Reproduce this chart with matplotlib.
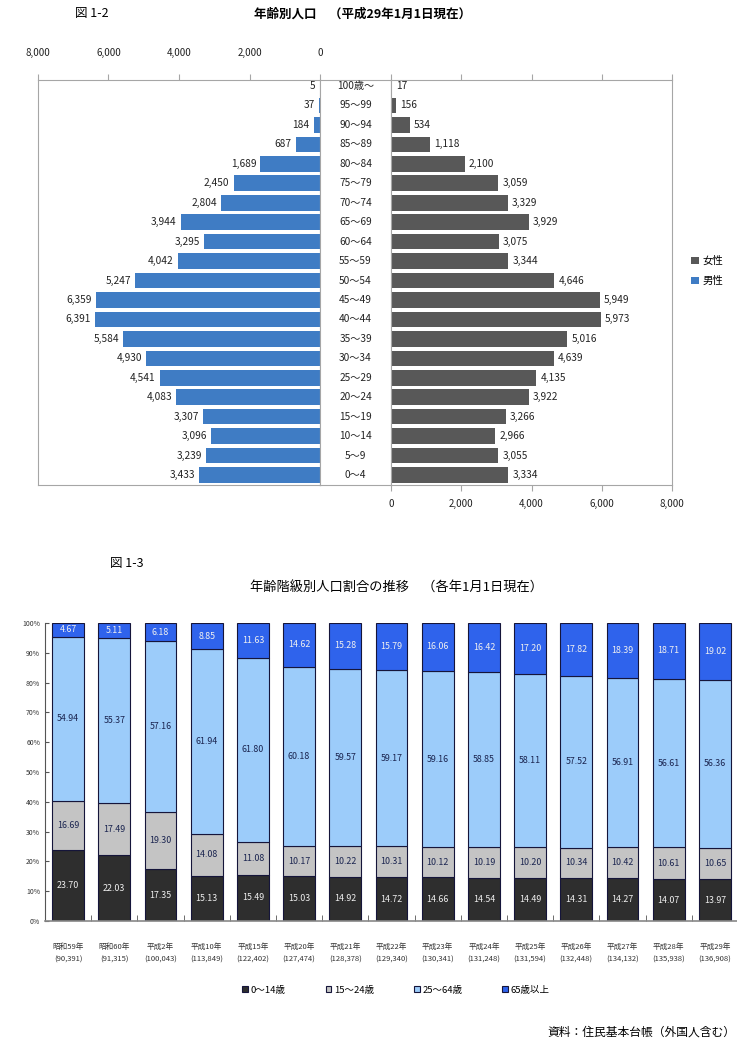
import matplotlib.pyplot as plt
import numpy as np

plt.rcParams['font.family'] = ['Noto Sans CJK JP', 'DejaVu Sans']

# ---- 図1-2 年齢別人口 ----
ages = ["0～4", "5～9", "10～14", "15～19", "20～24", "25～29", "30～34",
        "35～39", "40～44", "45～49", "50～54", "55～59", "60～64", "65～69",
        "70～74", "75～79", "80～84", "85～89", "90～94", "95～99", "100歳～"]
male = [3433, 3239, 3096, 3307, 4083, 4541, 4930, 5584, 6391, 6359, 5247,
        4042, 3295, 3944, 2804, 2450, 1689, 687, 184, 37, 5]
female = [3334, 3055, 2966, 3266, 3922, 4135, 4639, 5016, 5973, 5949, 4646,
          3344, 3075, 3929, 3329, 3059, 2100, 1118, 534, 156, 17]
pyr_ticks = [0, 2000, 4000, 6000, 8000]

# ---- 図1-3 年齢階級別人口割合の推移 ----
years = ["昭和59年", "昭和60年", "平成2年", "平成10年", "平成15年", "平成20年",
         "平成21年", "平成22年", "平成23年", "平成24年", "平成25年", "平成26年",
         "平成27年", "平成28年", "平成29年"]
totals = ["90,391", "91,315", "100,043", "113,849", "122,402", "127,474",
          "128,378", "129,340", "130,341", "131,248", "131,594", "132,448",
          "134,132", "135,938", "136,908"]
g0_14 = [23.70, 22.03, 17.35, 15.13, 15.49, 15.03, 14.92, 14.72, 14.66,
         14.54, 14.49, 14.31, 14.27, 14.07, 13.97]
g15_24 = [16.69, 17.49, 19.30, 14.08, 11.08, 10.17, 10.22, 10.31, 10.12,
          10.19, 10.20, 10.34, 10.42, 10.61, 10.65]
g25_64 = [54.94, 55.37, 57.16, 61.94, 61.80, 60.18, 59.57, 59.17, 59.16,
          58.85, 58.11, 57.52, 56.91, 56.61, 56.36]
g65 = [4.67, 5.11, 6.18, 8.85, 11.63, 14.62, 15.28, 15.79, 16.06, 16.42,
       17.20, 17.82, 18.39, 18.71, 19.02]
groups = ["0～14歳", "15～24歳", "25～64歳", "65歳以上"]

W, H = 737, 1051
fig = plt.figure(figsize=(W / 100, H / 100), dpi=100)


def rect(x0, y0, x1, y1):
    return [x0 / W, 1 - y1 / H, (x1 - x0) / W, (y1 - y0) / H]


frame = '#a6a6a6'
blue = '#3f7cc4'
dgray = '#585858'
ylo, yhi = -0.514, 20.31
pos = np.arange(len(ages))

axL = fig.add_axes(rect(38, 80, 320, 485))
axM = fig.add_axes(rect(320, 80, 391, 485))
axR = fig.add_axes(rect(391, 80, 672, 485))

axL.barh(pos, male, height=0.8, color=blue, label="男性")
axR.barh(pos, female, height=0.8, color=dgray, label="女性")
axL.set_xlim(8000, 0)
axR.set_xlim(0, 8000)
for ax in (axL, axM, axR):
    ax.set_ylim(ylo, yhi)
    ax.set_yticks([])
    for s in ax.spines.values():
        s.set_color(frame)
        s.set_linewidth(0.8)

axL.xaxis.tick_top()
axL.set_xticks(pyr_ticks)
axL.set_xticklabels([f"{v:,}" for v in pyr_ticks])
axL.tick_params(axis='x', labelsize=7, pad=12, length=4, color=frame,
                labelcolor='#222222')
axR.set_xticks(pyr_ticks)
axR.set_xticklabels([f"{v:,}" for v in pyr_ticks])
axR.tick_params(axis='x', labelsize=7, pad=6, length=0, labelcolor='#222222')
axR.tick_params(axis='x', top=True, labeltop=False, length=4, color=frame)
axM.set_xticks([])

for i, v in enumerate(male):
    axL.annotate(f"{v:,}", (v, i), xytext=(-3, 0), textcoords='offset points',
                 ha='right', va='center', fontsize=7.3, color='#222222')
for i, v in enumerate(female):
    axR.annotate(f"{v:,}", (v, i), xytext=(3, 0), textcoords='offset points',
                 ha='left', va='center', fontsize=7.3, color='#222222')
for i, a in enumerate(ages):
    axM.text(0.5, i, a, ha='center', va='center', fontsize=7.3,
             color='#222222', transform=axM.get_yaxis_transform())

hR, lR = axR.get_legend_handles_labels()
hL, lL = axL.get_legend_handles_labels()
fig.legend(hR + hL, lR + lL, loc='center left',
           bbox_to_anchor=(682 / W, 1 - 271 / H), frameon=False,
           fontsize=7.5, handlelength=0.7, handleheight=0.7,
           handletextpad=0.4, labelspacing=1.0)

fig.text(75 / W, 1 - 14 / H, "図 1-2", fontsize=9, ha='left', va='center')
fig.text(363 / W, 1 - 14 / H, "年齢別人口　（平成29年1月1日現在）",
         fontsize=9, ha='center', va='center', fontweight='bold')

# ---- stacked bars ----
ax2 = fig.add_axes(rect(45, 623, 738, 921))
x = np.arange(len(years))
cols = ['#2e2e2e', '#c4c4c4', '#9cccfa', '#2f63ec']
txtc = ['#eeeeee', '#1b2550', '#1b2550', '#f0f0f0']
bottom = np.zeros(len(years))
for vals, c, tc, lab in zip([g0_14, g15_24, g25_64, g65], cols, txtc, groups):
    vals = np.array(vals)
    ax2.bar(x, vals, bottom=bottom, width=0.69, color=c, edgecolor='#15153a',
            linewidth=0.8, label=lab)
    for xi, b, v in zip(x, bottom, vals):
        ax2.text(xi, b + v / 2, f"{v:.2f}", ha='center', va='center',
                 fontsize=6.4, color=tc)
    bottom += vals

ax2.set_xlim(-0.5, 14.5)
ax2.set_ylim(0, 100)
ax2.set_yticks(np.arange(0, 101, 10))
ax2.set_yticklabels([f"{v}%" for v in range(0, 101, 10)])
ax2.tick_params(axis='y', labelsize=5, direction='in', length=3,
                color='#555555', labelcolor='#333333')
ax2.set_xticks(x)
ax2.set_xticklabels([f"{y}\n({t})" for y, t in zip(years, totals)],
                    fontsize=5.5, linespacing=1.7, color='#333333')
ax2.tick_params(axis='x', length=0, pad=16)
ax2.set_xticks(x[:-1] + 0.5, minor=True)
ax2.tick_params(axis='x', which='minor', direction='in', length=4,
                color='#555555')
for s in ['top', 'right']:
    ax2.spines[s].set_visible(False)
ax2.spines['left'].set_color('#555555')
ax2.spines['bottom'].set_color('#888888')
ax2.spines['bottom'].set_linewidth(1.2)

fig.legend(*ax2.get_legend_handles_labels(), loc='center',
           bbox_to_anchor=(396 / W, 1 - 990 / H), ncol=4, frameon=False,
           fontsize=6.8, handlelength=0.6, handleheight=0.6,
           handletextpad=0.3, columnspacing=4.2)

fig.text(110 / W, 1 - 563 / H, "図 1-3", fontsize=9, ha='left', va='center')
fig.text(396 / W, 1 - 588 / H, "年齢階級別人口割合の推移　（各年1月1日現在）",
         fontsize=9.5, ha='center', va='center')
fig.text(735 / W, 1 - 1032 / H, "資料：住民基本台帳（外国人含む）",
         fontsize=8.5, ha='right', va='center')

fig.savefig("out.png", dpi=100)
